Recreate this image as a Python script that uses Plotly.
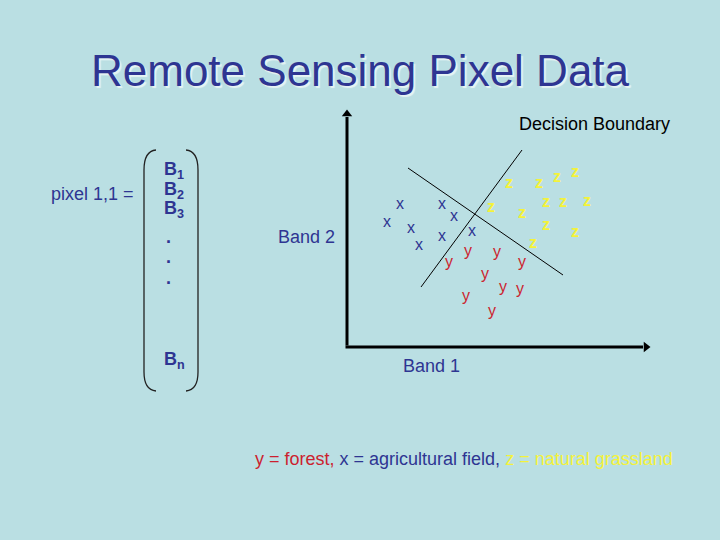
import plotly.graph_objects as go

# ---- data (Band 1, Band 2 values) ----
agri_b1 = [53, 40, 64, 72, 95, 107, 95, 125]
agri_b2 = [142, 124, 118, 101, 142, 130, 110, 115]

forest_b1 = [121, 102, 150, 175, 138, 156, 173, 119, 145]
forest_b2 = [95, 84, 94, 84, 72, 59, 57, 50, 35]

grass_b1 = [162, 192, 210, 228, 144, 199, 216, 240, 175, 199, 228, 186]
grass_b2 = [163, 163, 169, 174, 139, 144, 144, 145, 133, 121, 114, 103]

boundary1_b1 = [61, 216]
boundary1_b2 = [179, 72]
boundary2_b1 = [175, 74]
boundary2_b2 = [197, 60]

band_labels = ["B<sub>1</sub>", "B<sub>2</sub>", "B<sub>3</sub>", ".", ".", ".", "B<sub>n</sub>"]

# ---- styling ----
BG = "rgb(186,223,227)"
BLUE = "#2E3592"
RED = "#CC1F2F"
YEL = "#F4F23A"
FONT = "Liberation Sans, Arial, sans-serif"

OX, OY = 347, 347  # axis origin in pixels


def d(px, py):
    return px - OX, OY - py


fig = go.Figure()

# decision boundaries
for bx, by in [(boundary1_b1, boundary1_b2), (boundary2_b1, boundary2_b2)]:
    fig.add_trace(go.Scatter(x=bx, y=by, mode="lines",
                             line=dict(color="black", width=1), hoverinfo="skip",
                             showlegend=False))

for xs, ys, ch, col in [(agri_b1, agri_b2, "x", BLUE),
                        (forest_b1, forest_b2, "y", RED),
                        (grass_b1, grass_b2, "<b>z</b>", YEL)]:
    fig.add_trace(go.Scatter(x=xs, y=ys, mode="text", text=[ch] * len(xs),
                             textposition="middle center",
                             textfont=dict(family=FONT, size=16, color=col),
                             showlegend=False, hoverinfo="skip"))

# axis arrowheads
tipx, tipy = d(646, 0)[0], d(0, 114)[1]
fig.add_trace(go.Scatter(x=[0, tipx], y=[tipy, 0], mode="markers",
                         marker=dict(symbol=["triangle-up", "triangle-right"], size=9,
                                     color="black", line=dict(width=0)),
                         showlegend=False, hoverinfo="skip"))

ann = []


def txt(px, py, s, size=18, color=BLUE, xanchor="left", bold=False, shadow=None):
    x, y = d(px, py)
    a = dict(x=x, y=y, xref="x", yref="y", text=("<b>%s</b>" % s) if bold else s,
             showarrow=False, xanchor=xanchor, yanchor="middle",
             font=dict(family=FONT, size=size, color=color))
    if shadow:
        a["font"]["shadow"] = shadow
    ann.append(a)


txt(360, 70, "Remote Sensing Pixel Data", size=44, xanchor="center",
    shadow="2px 2px 1px rgba(235,245,245,0.9)")
txt(517, 124, "Decision Boundary", color="black")
txt(49, 194, "pixel 1,1 =")
txt(276, 237, "Band 2")
txt(401, 366, "Band 1")

ys_b = [170, 190, 209, 237, 257, 278, 360]
for lab, yy in zip(band_labels, ys_b):
    txt(162 if lab != "." else 164, yy, lab, bold=True)

legend = ("<span style='color:%s'>y = forest, </span>"
          "<span style='color:%s'>x = agricultural field, </span>"
          "<span style='color:%s'>z = natural grassland</span>") % (RED, BLUE, YEL)
txt(253, 459, legend)


def bracket(xe, xv):
    p = [d(xe, 150), d(xv, 151), d(xv, 170), d(xv, 372), d(xv, 390), d(xe, 391)]
    return "M %f %f Q %f %f %f %f L %f %f Q %f %f %f %f" % (
        p[0][0], p[0][1], p[1][0], p[1][1], p[2][0], p[2][1],
        p[3][0], p[3][1], p[4][0], p[4][1], p[5][0], p[5][1])


shapes = [
    dict(type="path", path=bracket(156, 144), xref="x", yref="y", line=dict(color="#222", width=1.3)),
    dict(type="path", path=bracket(186, 198), xref="x", yref="y", line=dict(color="#222", width=1.3)),
    dict(type="line", x0=-1.5, y0=0, x1=tipx - 3, y1=0, xref="x", yref="y",
         line=dict(color="black", width=3)),
    dict(type="line", x0=0, y0=1.5, x1=0, y1=tipy - 3, xref="x", yref="y",
         line=dict(color="black", width=3)),
]

fig.update_layout(
    width=720, height=540, autosize=False,
    margin=dict(l=0, r=0, t=0, b=0),
    paper_bgcolor=BG, plot_bgcolor=BG,
    xaxis=dict(range=[-OX, 720 - OX], visible=False, fixedrange=True),
    yaxis=dict(range=[OY - 540, OY], visible=False, fixedrange=True),
    annotations=ann, shapes=shapes, showlegend=False,
)

fig.write_html("out.html", config={"displayModeBar": False},
               post_script="document.body.style.margin='0';document.body.style.overflow='hidden';")
